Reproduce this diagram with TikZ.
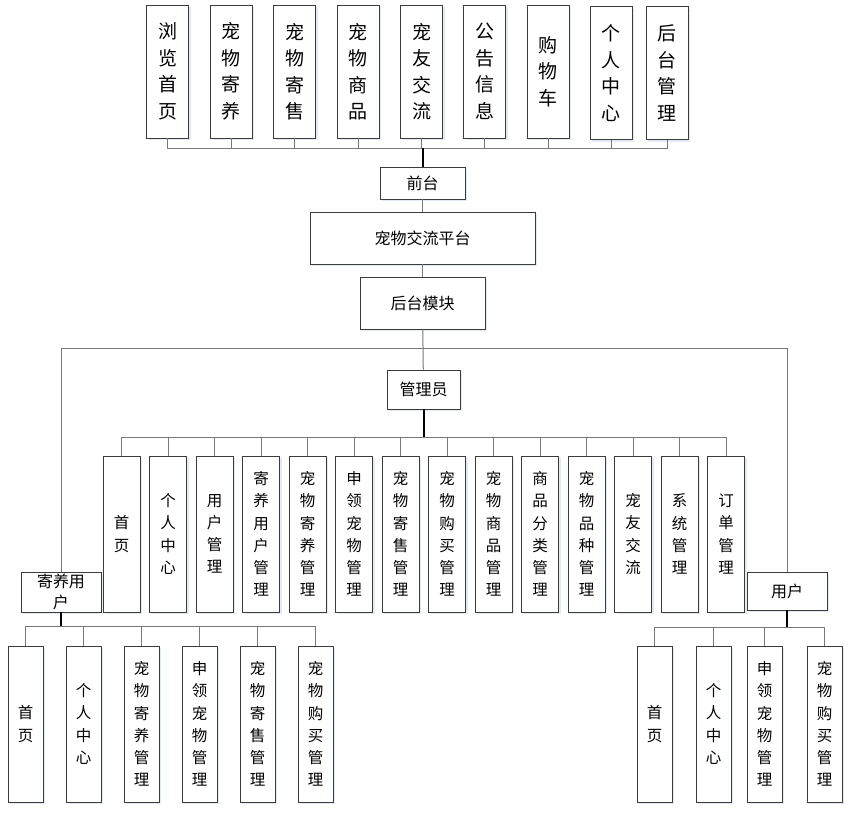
\documentclass[tikz,border=0pt]{standalone}
\usepackage{fontspec}
\setmainfont{Noto Sans CJK SC}
\usetikzlibrary{shadows}
\definecolor{petInk}{RGB}{60,60,60}
\definecolor{petLine}{RGB}{120,120,120}
\definecolor{petShade}{RGB}{210,220,236}
\tikzset{
  petbox/.style={draw=petInk, line width=.9pt, fill=white, align=center,
    inner sep=0pt, drop shadow={shadow xshift=2pt, shadow yshift=-2pt,
    fill=petShade, opacity=.6}},
  link/.style={draw=petLine, line width=1pt},
  trunk/.style={draw=black, line width=2pt}
}
\begin{document}
\begin{tikzpicture}[x=1pt, y=-1pt,
  menu/.style={petbox, minimum width=42pt, minimum height=133pt,
    font=\fontsize{19}{26.5}\selectfont},
  hub/.style={petbox, font=\fontsize{16}{21}\selectfont},
  leaf/.style={petbox, minimum width=37pt, minimum height=156pt,
    font=\fontsize{15.5}{22.2}\selectfont},
  sub/.style={leaf, minimum width=35pt}
]
\path[use as bounding box] (0,0) rectangle (852,815);

% front end menu
\node[menu] (t1) at (167.5,71.5) {浏\\览\\首\\页};
\node[menu] (t2) at (231,71.5) {宠\\物\\寄\\养};
\node[menu] (t3) at (294.5,71.5) {宠\\物\\寄\\售};
\node[menu] (t4) at (358,71.5) {宠\\物\\商\\品};
\node[menu] (t5) at (421.5,71.5) {宠\\友\\交\\流};
\node[menu] (t6) at (484.5,71.5) {公\\告\\信\\息};
\node[menu] (t7) at (548,71.5) {购\\物\\车};
\node[menu] (t8) at (611,73) {个\\人\\中\\心};
\node[menu] (t9) at (667,73) {后\\台\\管\\理};

% spine
\node[hub, minimum width=85pt, minimum height=32pt] (front) at (422.5,183) {前台};
\node[hub, minimum width=225pt, minimum height=52pt] (platform) at (422.5,238) {宠物交流平台};
\node[hub, minimum width=125pt, minimum height=52pt] (back) at (422.5,303) {后台模块};
\node[hub, minimum width=73pt, minimum height=39pt] (admin) at (423.5,389.5) {管理员};
\node[hub, minimum width=80pt, minimum height=40pt] (foster) at (61,592) {寄养用\\户};
\node[hub, minimum width=80pt, minimum height=38pt] (user) at (787,591) {用户};

% admin functions
\node[leaf] (a1) at (121.5,534) {首\\页};
\node[leaf] (a2) at (168,534) {个\\人\\中\\心};
\node[leaf] (a3) at (214.5,534) {用\\户\\管\\理};
\node[leaf] (a4) at (261,534) {寄\\养\\用\\户\\管\\理};
\node[leaf] (a5) at (307.5,534) {宠\\物\\寄\\养\\管\\理};
\node[leaf] (a6) at (354,534) {申\\领\\宠\\物\\管\\理};
\node[leaf] (a7) at (400.5,534) {宠\\物\\寄\\售\\管\\理};
\node[leaf] (a8) at (447,534) {宠\\物\\购\\买\\管\\理};
\node[leaf] (a9) at (493.5,534) {宠\\物\\商\\品\\管\\理};
\node[leaf] (a10) at (540,534) {商\\品\\分\\类\\管\\理};
\node[leaf] (a11) at (586.5,534) {宠\\物\\品\\种\\管\\理};
\node[leaf] (a12) at (633,534) {宠\\友\\交\\流};
\node[leaf] (a13) at (679.5,534) {系\\统\\管\\理};
\node[leaf] (a14) at (726,534) {订\\单\\管\\理};

% foster user functions
\node[sub] (f1) at (25.5,724) {首\\页};
\node[sub] (f2) at (83.5,724) {个\\人\\中\\心};
\node[sub] (f3) at (141.5,724) {宠\\物\\寄\\养\\管\\理};
\node[sub] (f4) at (199.5,724) {申\\领\\宠\\物\\管\\理};
\node[sub] (f5) at (257.5,724) {宠\\物\\寄\\售\\管\\理};
\node[sub] (f6) at (315.5,724) {宠\\物\\购\\买\\管\\理};

% user functions
\node[sub] (u1) at (654.5,724) {首\\页};
\node[sub] (u2) at (713.5,724) {个\\人\\中\\心};
\node[sub] (u3) at (764.5,724) {申\\领\\宠\\物\\管\\理};
\node[sub] (u4) at (824.5,724) {宠\\物\\购\\买\\管\\理};

\coordinate (topbus) at (422.5,148);
\coordinate (split) at (422.5,348);
\coordinate (adminbus) at (423.5,437);
\coordinate (fosterbus) at (61,626);
\coordinate (userbus) at (787,627);

\draw[link] (t1.south) |- (topbus);
\draw[link] (t2.south) |- (topbus);
\draw[link] (t3.south) |- (topbus);
\draw[link] (t4.south) |- (topbus);
\draw[link] (t5.south) |- (topbus);
\draw[link] (t6.south) |- (topbus);
\draw[link] (t7.south) |- (topbus);
\draw[link] (t8.south) |- (topbus);
\draw[link] (t9.south) |- (topbus);
\draw[trunk] (topbus) -- (front.north);

\draw[link] (front) -- (platform);
\draw[link] (platform) -- (back);
\draw[link] (back) -- (admin);
\draw[link] (split) -| (foster.north);
\draw[link] (split) -| (user.north);

\draw[trunk] (admin.south) -- (adminbus);
\draw[link] (a1.north) |- (adminbus);
\draw[link] (a2.north) |- (adminbus);
\draw[link] (a3.north) |- (adminbus);
\draw[link] (a4.north) |- (adminbus);
\draw[link] (a5.north) |- (adminbus);
\draw[link] (a6.north) |- (adminbus);
\draw[link] (a7.north) |- (adminbus);
\draw[link] (a8.north) |- (adminbus);
\draw[link] (a9.north) |- (adminbus);
\draw[link] (a10.north) |- (adminbus);
\draw[link] (a11.north) |- (adminbus);
\draw[link] (a12.north) |- (adminbus);
\draw[link] (a13.north) |- (adminbus);
\draw[link] (a14.north) |- (adminbus);

\draw[trunk] (foster.south) -- (fosterbus);
\draw[link] (f1.north) |- (fosterbus);
\draw[link] (f2.north) |- (fosterbus);
\draw[link] (f3.north) |- (fosterbus);
\draw[link] (f4.north) |- (fosterbus);
\draw[link] (f5.north) |- (fosterbus);
\draw[link] (f6.north) |- (fosterbus);

\draw[trunk] (user.south) -- (userbus);
\draw[link] (u1.north) |- (userbus);
\draw[link] (u2.north) |- (userbus);
\draw[link] (u3.north) |- (userbus);
\draw[link] (u4.north) |- (userbus);
\end{tikzpicture}
\end{document}
